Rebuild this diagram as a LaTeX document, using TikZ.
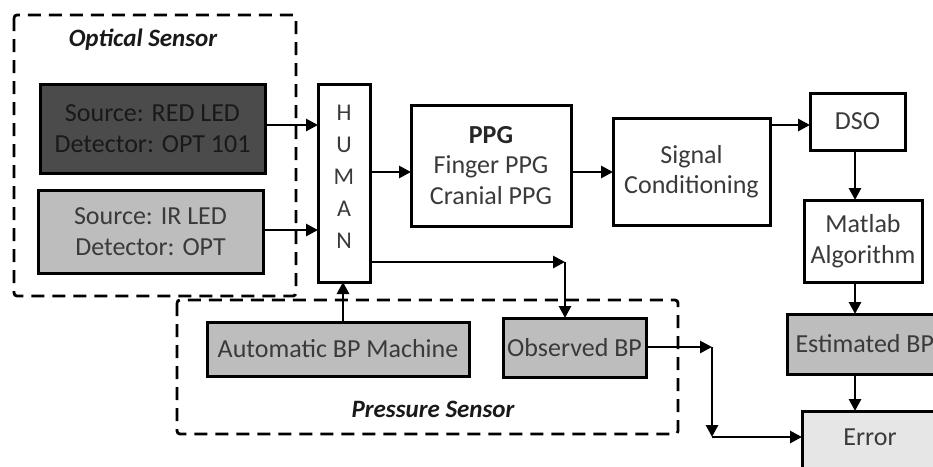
\documentclass[tikz,border=0pt]{standalone}
\usepackage{fontspec}
\setmainfont{Carlito}
\usetikzlibrary{arrows.meta}
\definecolor{txt}{HTML}{3A3A3A}
\definecolor{darkfill}{HTML}{4B4B4B}
\definecolor{midfill}{HTML}{BDBDBD}
\definecolor{lightfill}{HTML}{E6E6E6}
\tikzset{
  blk/.style={draw=black, line width=3pt, inner sep=0pt, outer sep=0pt, align=center,
    text=txt, font=\fontsize{26}{30.5}\selectfont},
  conn/.style={line width=2.8pt, -{Triangle[length=12pt,width=12pt]}},
  grp/.style={draw=black, line width=2.8pt, dash pattern=on 13pt off 8pt, rounded corners=3pt},
  grplabel/.style={font=\fontsize{25}{28}\selectfont\bfseries\itshape, text=black!90}
}
\begin{document}
\begin{tikzpicture}[x=1pt,y=-1pt]
\useasboundingbox (0,0) rectangle (933,466);
\clip (0,0) rectangle (933,466);
% groups
\draw[grp] (14,15) rectangle (296,296);
\node[grplabel] (optlbl) at (143,40) {Optical Sensor};
\draw[grp] (177,300) rectangle (678,434);
\node[grplabel] (prlbl) at (433,409) {Pressure Sensor};
% blocks
\node[blk, fill=darkfill, text=black!90, minimum width=225pt, minimum height=89pt] (red) at (152.5,128.5) {Source: RED LED\\Detector: OPT 101};
\node[blk, fill=midfill, minimum width=225pt, minimum height=83pt] (ir) at (150.5,231.5) {Source: IR LED\\Detector: OPT};
\node[blk, minimum width=52pt, minimum height=198pt] (human) at (344,183) {};
\node[text=txt, align=center, font=\fontsize{24}{32}\selectfont] (humant) at (344,177) {H\\U\\M\\A\\N};
\node[blk, minimum width=160pt, minimum height=121pt] (ppg) at (491,165.5) {\textbf{\color{black!85}PPG}\\Finger PPG\\Cranial PPG};
\node[blk, minimum width=157pt, minimum height=107pt, anchor=north] (sc) at (691.5,118) {\rule{0pt}{14pt}Signal\\Conditioning};
\node[blk, minimum width=95pt, minimum height=57pt] (dso) at (857.5,121.5) {DSO};
\node[blk, minimum width=118pt, minimum height=82pt] (mat) at (863,241) {Matlab\\Algorithm};
\node[blk, fill=midfill, minimum width=150pt, minimum height=60pt, anchor=west] (est) at (787,344) {};
\node[text=txt, font=\fontsize{26}{30.5}\selectfont, anchor=west] (estt) at (792,344) {Estimated BP};
\node[blk, fill=lightfill, minimum width=150pt, minimum height=70pt, anchor=north west] (err) at (802,411) {};
\node[text=txt, font=\fontsize{26}{30.5}\selectfont] (errt) at (870,437) {Error};
\node[blk, fill=midfill, minimum width=262pt, minimum height=54pt] (auto) at (338,349) {Automatic BP Machine};
\node[blk, fill=midfill, minimum width=143pt, minimum height=59pt] (obs) at (574.5,347.5) {Observed BP};
% connectors
\draw[conn] (red.east |- 0,125) -- (human.west |- 0,125);
\draw[conn] (ir.east |- 0,230) -- (human.west |- 0,230);
\draw[conn] (human.east |- 0,172) -- (ppg.west |- 0,172);
\draw[conn] (ppg.east |- 0,172) -- (sc.west |- 0,172);
\draw[conn] (sc.east |- 0,125) -- (dso.west |- 0,125);
\draw[conn] (dso.south -| 855,0) -- (mat.north -| 855,0);
\draw[conn] (mat.south -| 855,0) -- (est.north -| 855,0);
\draw[conn] (est.south -| 855,0) -- (err.north -| 855,0);
\draw[conn] (auto.north -| 343,0) -- (human.south -| 343,0);
\coordinate (c1) at (565,262);
\draw[conn] (human.east |- c1) -- (c1);
\draw[conn] (c1) -- (obs.north -| c1);
\coordinate (c2) at (712,347);
\coordinate (c3) at (712,437);
\draw[conn] (obs.east |- c2) -- (c2);
\draw[conn] (c2) -- (c3);
\draw[conn] (c3) -- (err.west |- c3);
\end{tikzpicture}
\end{document}
